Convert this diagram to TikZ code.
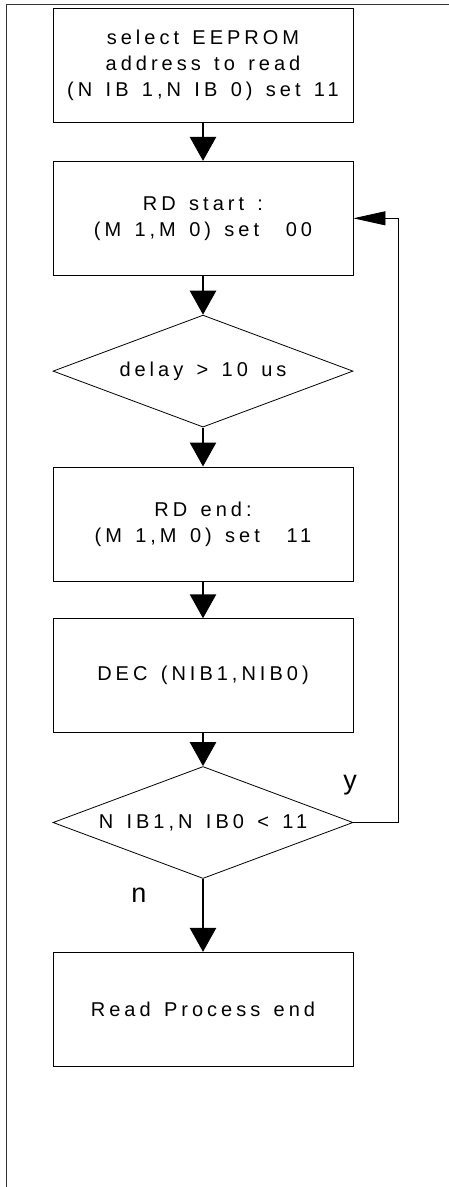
\documentclass[tikz,border=0pt]{standalone}
\usepackage{fontspec}
\setmainfont{Liberation Sans}
\newfontfamily\flowfont[LetterSpace=20,WordSpace=1.4]{Liberation Sans}
\usetikzlibrary{positioning,arrows.meta,shapes.geometric}
\tikzset{
  box/.style  = {rectangle, draw, line width=0.8pt,
                 minimum width=300pt, minimum height=114pt,
                 align=center, inner sep=0pt,
                 font=\flowfont\fontsize{20}{26}\selectfont},
  decision/.style = {diamond, draw, line width=0.8pt, aspect=2.68,
                 minimum width=300pt, minimum height=112pt, inner sep=0pt,
                 font=\flowfont\fontsize{20}{26}\selectfont},
  arr/.style  = {-{Triangle[length=24pt,width=26pt]}, line width=2.6pt},
  back/.style = {-{Triangle[length=32pt,width=14pt]}, line width=0.8pt},
  lab/.style  = {font=\fontsize{27}{27}\selectfont}
}

\begin{document}
\begin{tikzpicture}[x=1pt, y=1pt, node distance=38pt]
\useasboundingbox (0,0) rectangle (449,-1187);

% --- Rahmen ------------------------------------------------------
\draw[line width=0.8pt, black!80] (6,-1187) -- (6,-4.5) -- (449,-4.5);

% --- Ablauf ------------------------------------------------------
\node[box] (sel) at (203,-65.5) {select EEPROM\\ address to read\\ (N IB 1,N IB 0) set 11};
\node[box, below=of sel] (rdstart) {RD start :\\ (M 1,M 0) set\ \ 00};
\node[decision, below=39pt of rdstart] (delay) {delay > 10 us};
\node[box, below=39pt of delay] (rdend) {RD end:\\ (M 1,M 0) set\ \ 11};
\node[box, below=37pt of rdend] (decr) {DEC (NIB1,NIB0)};
\node[decision, below=33pt of decr] (cnt) {N IB1,N IB0 < 11};
\node[box, below=73pt of cnt] (fin) {Read Process end};

\draw[arr] (sel) -- (rdstart);
\draw[arr] (rdstart) -- (delay);
\draw[arr] (delay) -- (rdend);
\draw[arr] (rdend) -- (decr);
\draw[arr] (decr) -- (cnt);
\draw[arr] (cnt) -- (fin);

% --- Schleife zurueck --------------------------------------------
\draw[back] (cnt.east) -- ++(45,0) |- (rdstart.east);

\node[lab] (ylab) at (350,-785) {y};
\node[lab] (nlab) at (139,-895) {n};
\end{tikzpicture}
\end{document}
